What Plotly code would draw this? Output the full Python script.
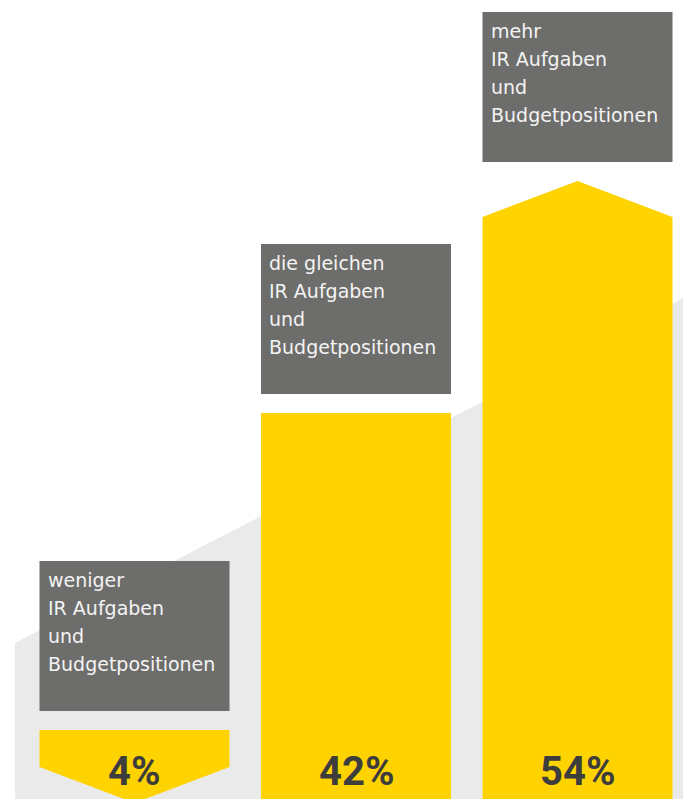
import plotly.graph_objects as go

# ---- data ----
categories = ["weniger", "die gleichen", "mehr"]
box_lines = [
    ["weniger", "IR Aufgaben", "und", "Budgetpositionen"],
    ["die gleichen", "IR Aufgaben", "und", "Budgetpositionen"],
    ["mehr", "IR Aufgaben", "und", "Budgetpositionen"],
]
values = [4, 42, 54]
value_labels = [f"{v}%" for v in values]
# visual height of each bar/arrow top as drawn in the infographic (chart units)
bar_tops = [69, 386, 618]
directions = ["down", "flat", "up"]

# ---- styles / layout constants ----
W, H = 683, 799
YELLOW = "#FFD300"
BOX = "#6D6D6B"
BG = "#EAEAEA"
DARK = "#3D3D3D"
WHITE_TXT = "#F4F4F4"

px_per_unit = 221.5
first_center_px = 134.5
bar_w = 190 / px_per_unit
notch = 36
gap = 19
box_h = 150
line_step = 28

x_range = [-first_center_px / px_per_unit, (W - first_center_px) / px_per_unit]

fig = go.Figure()

# background slope
bg_left = (15 - first_center_px) / px_per_unit
bg_y_left = 156
bg_slope = 0.516 * px_per_unit
bg_y_right = bg_y_left + bg_slope * (x_range[1] - bg_left)
fig.add_shape(type="path",
              path=f"M {bg_left},0 L {bg_left},{bg_y_left} L {x_range[1]},{bg_y_right} L {x_range[1]},0 Z",
              xref="x", yref="y", fillcolor=BG, line=dict(width=0), layer="below")

annotations = []
for i, cat in enumerate(categories):
    xl, xr = i - bar_w / 2, i + bar_w / 2
    top = bar_tops[i]
    if directions[i] == "down":
        xs = [xl, xr, xr, i, xl, xl]
        ys = [top, top, top - 37, top - 37 - notch, top - 37, top]
    elif directions[i] == "up":
        xs = [xl, xr, xr, i, xl, xl]
        ys = [0, 0, top - notch, top, top - notch, 0]
    else:
        xs = [xl, xr, xr, xl, xl]
        ys = [0, 0, top, top, 0]
    fig.add_trace(go.Scatter(x=xs, y=ys, fill="toself", fillcolor=YELLOW, mode="lines",
                             line=dict(width=0), hoverinfo="skip", showlegend=False, name=cat))
    # grey label box
    b0 = top + gap
    b1 = b0 + box_h
    fig.add_trace(go.Scatter(x=[xl, xr, xr, xl, xl], y=[b0, b0, b1, b1, b0], fill="toself",
                             fillcolor=BOX, mode="lines", line=dict(width=0),
                             hoverinfo="skip", showlegend=False))
    for k, line in enumerate(box_lines[i]):
        annotations.append(dict(x=xl, y=b1 - 18.5 - line_step * k, xref="x", yref="y",
                                text=line, showarrow=False, xanchor="left", yanchor="middle",
                                xshift=6,
                                font=dict(family="DejaVu Sans", size=19, color=WHITE_TXT)))
    annotations.append(dict(x=i, y=28, xref="x", yref="y", text=f"<b>{value_labels[i]}</b>",
                            showarrow=False, xanchor="center", yanchor="middle",
                            font=dict(family="Roboto", size=40, color=DARK)))

fig.update_layout(
    width=W, height=H,
    margin=dict(l=0, r=0, t=0, b=0),
    paper_bgcolor="white", plot_bgcolor="white",
    xaxis=dict(range=x_range, visible=False, fixedrange=True),
    yaxis=dict(range=[0, H], visible=False, fixedrange=True),
    annotations=annotations,
    showlegend=False,
)

fig.write_html("out.html", config={"displayModeBar": False},
               post_script="document.body.style.margin='0';document.body.style.overflow='hidden';")
